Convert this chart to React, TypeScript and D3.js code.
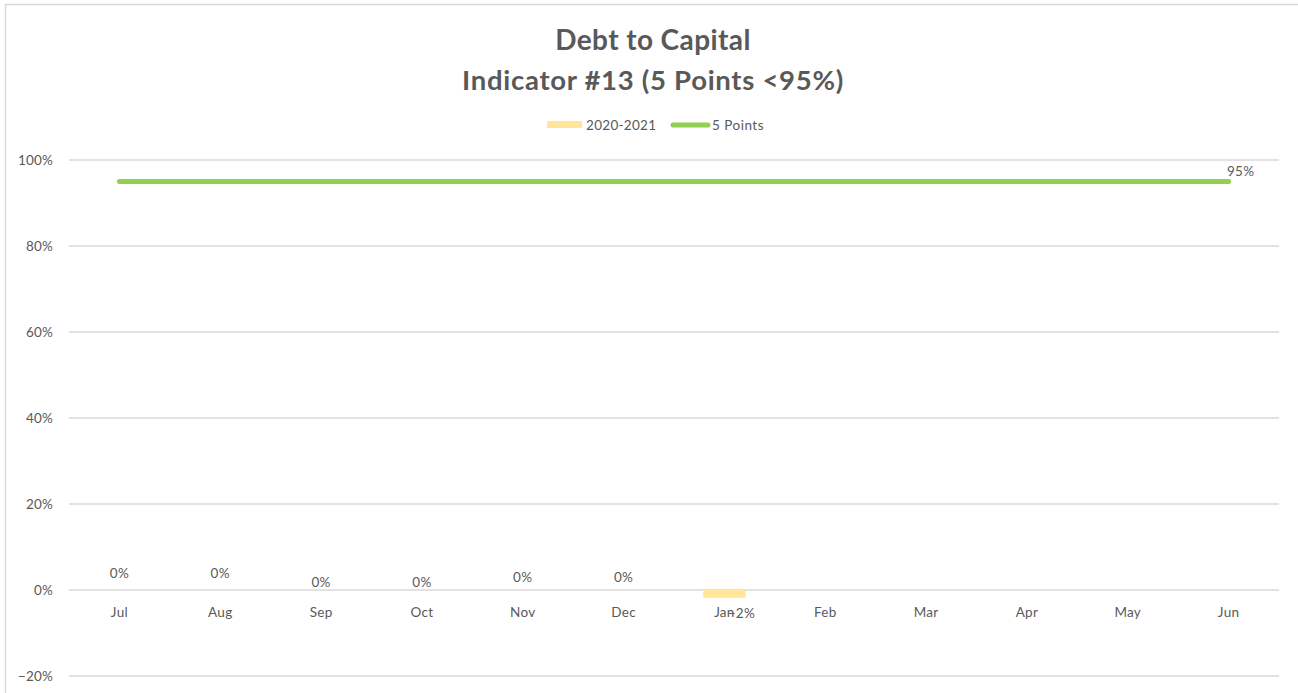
import React from "react";
import * as d3 from "d3";

const months = ["Jul", "Aug", "Sep", "Oct", "Nov", "Dec", "Jan", "Feb", "Mar", "Apr", "May", "Jun"];
const values2021: (number | null)[] = [0.002, 0.002, 0, 0, 0.001, 0.001, -0.018, null, null, null, null, null];
const labelLift = [9, 9, 0, 0, 5, 5, 0, 0, 0, 0, 0, 0];
const target = [0.95, 0.95, 0.95, 0.95, 0.95, 0.95, 0.95, 0.95, 0.95, 0.95, 0.95, 0.95];
const yTicks = [-0.2, 0, 0.2, 0.4, 0.6, 0.8, 1.0];

const W = 1298;
const H = 693;
const FONT = "Lato, 'Open Sans', sans-serif";
const TXT = "#595959";

export default function App() {
  const left = 69;
  const right = 1279;
  const x = d3.scaleBand<string>().domain(months).range([left, right]).paddingInner(0).paddingOuter(0);
  const y = d3.scaleLinear().domain([-0.2, 1.0]).range([676, 160]);
  const bw = x.bandwidth() * 0.42;
  const fmt = d3.format(".0%");
  const cx = (m: string) => (x(m) as number) + x.bandwidth() / 2;
  const line = d3
    .line<number>()
    .x((_, i) => cx(months[i]))
    .y((d) => y(d));

  return (
    <svg width={W} height={H} style={{ position: "absolute", left: 0, top: 0, background: "#fff" }}>
      <rect x={5.5} y={4.5} width={W + 20} height={H + 20} fill="#fff" stroke="#d9d9d9" strokeWidth={1.5} />
      <text x={653} y={50} textAnchor="middle" fontFamily={FONT} fontWeight={700} fontSize={28} letterSpacing={0.4} fill={TXT}>
        Debt to Capital
      </text>
      <text x={653} y={90} textAnchor="middle" fontFamily={FONT} fontWeight={700} fontSize={27.5} letterSpacing={0.7} fill={TXT}>
        Indicator #13 (5 Points &lt;95%)
      </text>
      {/* legend */}
      <rect x={547} y={121} width={35} height={7} fill="#ffe699" />
      <text x={586} y={130} fontFamily={FONT} fontSize={13.5} letterSpacing={0.3} fill={TXT}>2020-2021</text>
      <line x1={673} x2={708} y1={125} y2={125} stroke="#92d050" strokeWidth={5} strokeLinecap="round" />
      <text x={712} y={130} fontFamily={FONT} fontSize={13.5} letterSpacing={0.5} fill={TXT}>5 Points</text>
      {/* grid */}
      {yTicks.map((t) => (
        <g key={t}>
          <line x1={left} x2={right} y1={y(t)} y2={y(t)} stroke="#d9d9d9" strokeWidth={1.3} />
          <text x={53} y={y(t) + 5} textAnchor="end" fontFamily={FONT} fontSize={13.5} letterSpacing={0.2} fill={TXT}>
            {fmt(t)}
          </text>
        </g>
      ))}
      {/* bars */}
      {values2021.map((v, i) =>
        v === null ? null : (
          <rect
            key={months[i]}
            x={cx(months[i]) - bw / 2}
            y={Math.min(y(v), y(0))}
            width={bw}
            height={Math.abs(y(v) - y(0))}
            fill="#ffe699"
          />
        )
      )}
      {/* x labels */}
      {months.map((m) => (
        <text key={m} x={cx(m)} y={617} textAnchor="middle" fontFamily={FONT} fontSize={13.5} letterSpacing={0.3} fill={TXT}>
          {m}
        </text>
      ))}
      {/* bar labels */}
      {values2021.map((v, i) =>
        v === null ? null : v >= 0 ? (
          <text
            key={"l" + months[i]}
            x={cx(months[i])}
            y={y(0) - 3 - labelLift[i]}
            textAnchor="middle"
            fontFamily={FONT}
            fontSize={13.5}
            letterSpacing={0.3}
            fill={TXT}
          >
            {fmt(v)}
          </text>
        ) : (
          <text
            key={"l" + months[i]}
            x={cx(months[i]) + 17}
            y={y(v) + 20}
            textAnchor="middle"
            fontFamily={FONT}
            fontSize={13.5}
            letterSpacing={0.3}
            fill={TXT}
          >
            {fmt(v)}
          </text>
        )
      )}
      {/* target line */}
      <path d={line(target) || ""} fill="none" stroke="#92d050" strokeWidth={5} strokeLinecap="round" />
      <text
        x={cx(months[11]) + 12}
        y={y(target[11]) - 6}
        textAnchor="middle"
        fontFamily={FONT}
        fontSize={13.5}
        letterSpacing={0.3}
        fill={TXT}
      >
        {fmt(target[11])}
      </text>
    </svg>
  );
}
